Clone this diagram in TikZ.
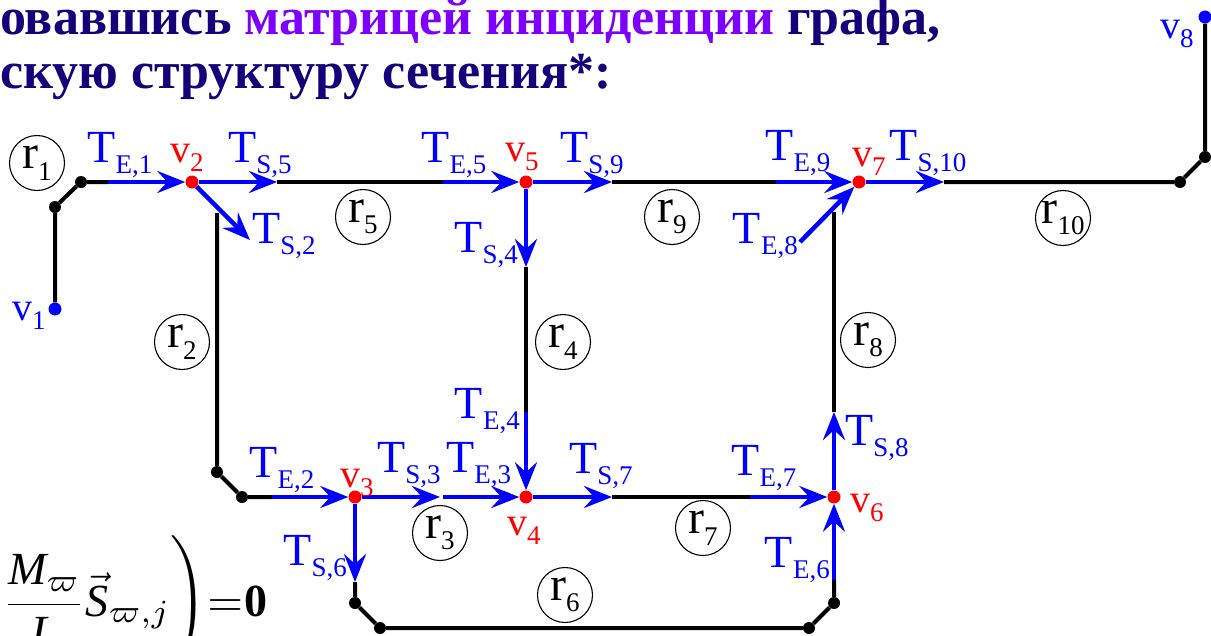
\documentclass[tikz,border=0pt]{standalone}
\usepackage{amsmath}
\usepackage{fontspec}
\setmainfont{Liberation Serif}
\usetikzlibrary{arrows.meta}

\definecolor{titleblue}{RGB}{20,0,120}
\definecolor{titleviolet}{RGB}{125,0,255}

% letter with a lowered index, as in the labels of the graph
\newcommand{\lbl}[2]{#1\raisebox{-0.24em}{\fontsize{27}{27}\selectfont#2}}

\begin{document}
\begin{tikzpicture}[
    x=1pt, y=-1pt,
    >={Stealth[length=28pt,width=22pt,inset=10pt]},
    vtx/.style={
        circle,
        fill=#1,
        inner sep=0pt,
        minimum size=13pt
    },
    kink/.style={
        circle,
        fill=black,
        inner sep=0pt,
        minimum size=12pt
    },
    wire/.style={line width=4pt,black},
    flow/.style={->,line width=4.5pt,blue},
    region/.style={
        circle,
        draw,
        line width=1.1pt,
        inner sep=0pt,
        minimum size=55pt,
        font=\fontsize{48}{48}\selectfont
    },
    tlab/.style={
        anchor=base,
        inner sep=0pt,
        text=blue,
        font=\fontsize{46}{46}\selectfont
    },
    vlab/.style={
        anchor=base west,
        inner sep=0pt,
        text=#1,
        font=\fontsize{40}{40}\selectfont
    },
    headline/.style={
        anchor=base west,
        inner sep=0pt,
        text=titleblue,
        font=\fontsize{52}{52}\selectfont\bfseries
    }
]
\useasboundingbox (0,0) rectangle (1211,635);
\clip (0,0) rectangle (1211,635);

% Heading, cut by the frame
\node[headline] (head1) at (0,34) {овавшись \textcolor{titleviolet}{матрицей инциденции} графа,};
\node[headline] (head2) at (0,88) {скую структуру сечения*:};

% Equation, cut by the frame
\node[anchor=base west,inner sep=0pt] (law) at (-3,616)
    {\scalebox{4.6}{$\left.\dfrac{\mathit{M}_{\varpi}}{\mathit{L}}\vec{\mathit{S}}_{\varpi,j}\vrule height 19pt depth 14pt width 0pt\right)\mskip-3mu{=}\mskip0.5mu\mathbf{0}$}};

% Vertices
\node[vtx=blue] (v1) at (55,309) {};
\node[vtx=red] (v2) at (192,182) {};
\node[vtx=red] (v3) at (355,497) {};
\node[vtx=red] (v4) at (526,497) {};
\node[vtx=red] (v5) at (526,182) {};
\node[vtx=red] (v6) at (834,497) {};
\node[vtx=red] (v7) at (859,182) {};
\node[vtx=blue] (v8) at (1205,17) {};

% Bends of the lines
\node[kink] (a1) at (55,207) {};
\node[kink] (a2) at (81,182) {};
\node[kink] (b1) at (217,472) {};
\node[kink] (b2) at (242,497) {};
\node[kink] (c1) at (355,603) {};
\node[kink] (c2) at (380,628) {};
\node[kink] (c3) at (809,628) {};
\node[kink] (c4) at (834,603) {};
\node[kink] (d1) at (1180,182) {};
\node[kink] (d2) at (1205,157) {};

% Free ends of the arrows
\coordinate (te1) at (108,182);
\coordinate (ts5) at (277,182);
\coordinate (ts2) at (250,240);
\coordinate (te5) at (443,182);
\coordinate (ts9) at (612,182);
\coordinate (ts4) at (526,267);
\coordinate (te9) at (776,182);
\coordinate (te8) at (800,242);
\coordinate (ts10) at (944,182);
\coordinate (te2) at (272,497);
\coordinate (ts3) at (440,497);
\coordinate (te3) at (443,497);
\coordinate (te4) at (526,412);
\coordinate (ts7) at (612,497);
\coordinate (ts6) at (355,582);
\coordinate (te7) at (750,497);
\coordinate (te6) at (834,580);
\coordinate (ts8) at (834,412);
\coordinate (r2top) at (217,213);
\coordinate (r8top) at (834,212);

% Lines r1 ... r10
\draw[wire] (v1) -- (a1) -- (a2) -- (te1);
\draw[wire] (r2top) -- (b1) -- (b2) -- (te2);
\draw[wire] (ts4) -- (te4);
\draw[wire] (ts5) -- (te5);
\draw[wire] (ts6) -- (c1) -- (c2) -- (c3) -- (c4) -- (te6);
\draw[wire] (ts7) -- (te7);
\draw[wire] (r8top) -- (ts8);
\draw[wire] (ts9) -- (te9);
\draw[wire] (ts10) -- (d1) -- (d2) -- (v8);

% Arrows at the vertices
\draw[flow] (te1) -- (v2);
\draw[flow] (v2) -- (ts5);
\draw[flow] (v2) -- (ts2);
\draw[flow] (te5) -- (v5);
\draw[flow] (v5) -- (ts9);
\draw[flow] (v5) -- (ts4);
\draw[flow] (te9) -- (v7);
\draw[flow] (te8) -- (v7);
\draw[flow] (v7) -- (ts10);
\draw[flow] (te2) -- (v3);
\draw[flow] (v3) -- (ts3);
\draw[flow] (te3) -- (v4);
\draw[flow] (te4) -- (v4);
\draw[flow] (v4) -- (ts7);
\draw[flow] (v3) -- (ts6);
\draw[flow] (te7) -- (v6);
\draw[flow] (te6) -- (v6);
\draw[flow] (v6) -- (ts8);

% Arrow labels
\node[tlab] (lte1) at (120,162) {\lbl{T}{E,1}};
\node[tlab] (lts5) at (260,162) {\lbl{T}{S,5}};
\node[tlab,anchor=base west] (lts2) at (252,243) {\lbl{T}{S,2}};
\node[tlab] (lte5) at (454,162) {\lbl{T}{E,5}};
\node[tlab] (lts9) at (592,162) {\lbl{T}{S,9}};
\node[tlab,anchor=base east] (lts4) at (518,252) {\lbl{T}{S,4}};
\node[tlab] (lte9) at (798,160) {\lbl{T}{E,9}};
\node[tlab] (lts10) at (928,160) {\lbl{T}{S,10}};
\node[tlab,anchor=base east] (lte8) at (798,243) {\lbl{T}{E,8}};
\node[tlab] (lte2) at (282,477) {\lbl{T}{E,2}};
\node[tlab,anchor=base west] (lts3) at (377,472) {\lbl{T}{S,3}};
\node[tlab,anchor=base west] (lte3) at (446,472) {\lbl{T}{E,3}};
\node[tlab,anchor=base east] (lte4) at (520,418) {\lbl{T}{E,4}};
\node[tlab] (lts7) at (601,473) {\lbl{T}{S,7}};
\node[tlab,anchor=base east] (lts6) at (347,565) {\lbl{T}{S,6}};
\node[tlab] (lte7) at (764,475) {\lbl{T}{E,7}};
\node[tlab,anchor=base west] (lts8) at (845,445) {\lbl{T}{S,8}};
\node[tlab,anchor=base east] (lte6) at (830,567) {\lbl{T}{E,6}};

% Vertex labels
\node[vlab=blue] (lv1) at (12,320) {\lbl{v}{1}};
\node[vlab=red] (lv2) at (170,162) {\lbl{v}{2}};
\node[vlab=red] (lv3) at (340,487) {\lbl{v}{3}};
\node[vlab=red] (lv4) at (507,535) {\lbl{v}{4}};
\node[vlab=red] (lv5) at (505,161) {\lbl{v}{5}};
\node[vlab=red] (lv6) at (850,512) {\lbl{v}{6}};
\node[vlab=red] (lv7) at (852,166) {\lbl{v}{7}};
\node[vlab=blue] (lv8) at (1160,38) {\lbl{v}{8}};

% Circled line numbers
\node[region] (reg1) at (37,163) {\lbl{r}{1}};
\node[region] (reg2) at (182,342) {\lbl{r}{2}};
\node[region] (reg3) at (440,533) {\lbl{r}{3}};
\node[region] (reg4) at (563,342) {\lbl{r}{4}};
\node[region] (reg5) at (363,217) {\lbl{r}{5}};
\node[region] (reg6) at (565,595) {\lbl{r}{6}};
\node[region] (reg7) at (703,528) {\lbl{r}{7}};
\node[region] (reg8) at (868,340) {\lbl{r}{8}};
\node[region] (reg9) at (672,217) {\lbl{r}{9}};
\node[region] (reg10) at (1063,218) {\lbl{r}{10}};

\end{tikzpicture}
\end{document}
